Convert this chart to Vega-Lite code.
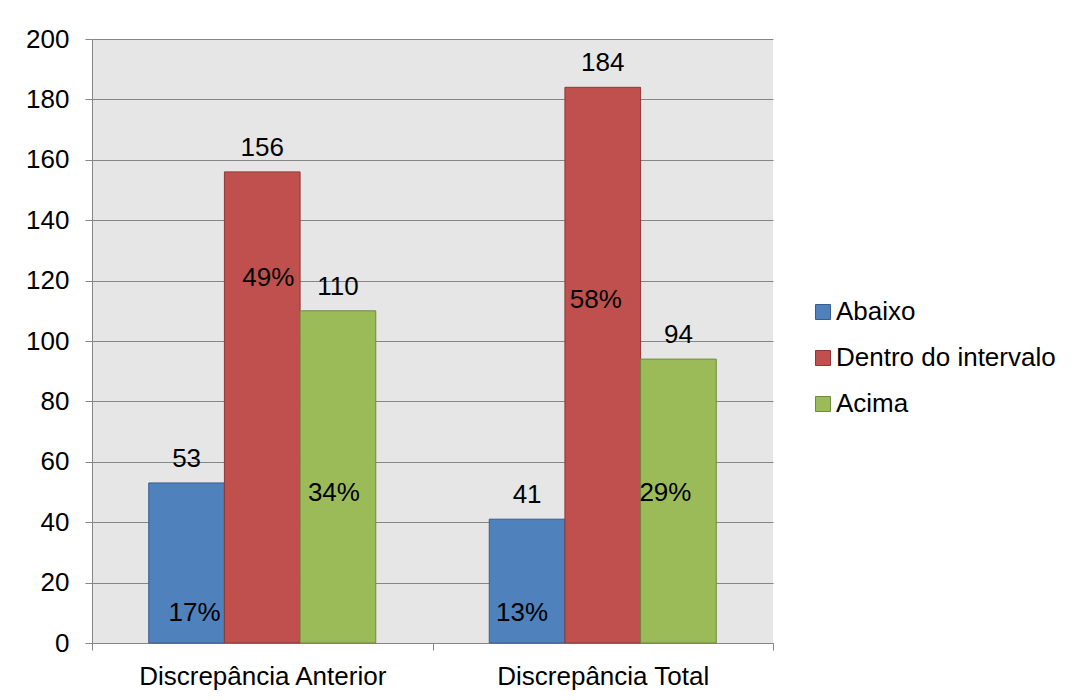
{
  "$schema": "https://vega.github.io/schema/vega-lite/v6.json",
  "width": 681,
  "height": 604,
  "autosize": {"type": "none"},
  "padding": {"left": 92, "top": 39, "right": 304, "bottom": 57},
  "background": "white",
  "config": {
    "font": "Liberation Sans",
    "view": {"fill": "#e6e6e6", "stroke": null},
    "text": {"font": "Liberation Sans", "fontSize": 26, "color": "black"}
  },
  "data": {
    "values": [
      {"grupo": "Discrepância Anterior", "serie": "Abaixo", "valor": 53, "pct": "17%"},
      {"grupo": "Discrepância Anterior", "serie": "Dentro do intervalo", "valor": 156, "pct": "49%"},
      {"grupo": "Discrepância Anterior", "serie": "Acima", "valor": 110, "pct": "34%"},
      {"grupo": "Discrepância Total", "serie": "Abaixo", "valor": 41, "pct": "13%"},
      {"grupo": "Discrepância Total", "serie": "Dentro do intervalo", "valor": 184, "pct": "58%"},
      {"grupo": "Discrepância Total", "serie": "Acima", "valor": 94, "pct": "29%"}
    ]
  },
  "encoding": {
    "x": {
      "field": "grupo",
      "type": "nominal",
      "sort": null,
      "scale": {"paddingInner": 0, "paddingOuter": 0},
      "axis": {
        "title": null,
        "labelAngle": 0,
        "labelLimit": 0,
        "tickBand": "extent",
        "tickSize": 7,
        "tickColor": "#868686",
        "domainColor": "#868686",
        "labelPadding": 13,
        "labelFontSize": 26,
        "labelColor": "black",
        "labelFont": "Liberation Sans"
      }
    },
    "xOffset": {
      "field": "serie",
      "type": "nominal",
      "sort": ["Abaixo", "Dentro do intervalo", "Acima"],
      "scale": {"paddingInner": 0, "paddingOuter": 0.75}
    }
  },
  "layer": [
    {
      "mark": {"type": "bar", "strokeWidth": 1},
      "encoding": {
        "y": {
          "field": "valor",
          "type": "quantitative",
          "scale": {"domain": [0, 200]},
          "axis": {
            "title": null,
            "values": [0, 20, 40, 60, 80, 100, 120, 140, 160, 180, 200],
            "grid": true,
            "gridColor": "#868686",
            "gridWidth": 1,
            "domainColor": "#868686",
            "tickColor": "#868686",
            "tickSize": 7,
            "labelPadding": 16,
            "labelFontSize": 26,
            "labelColor": "black",
            "labelFont": "Liberation Sans"
          }
        },
        "color": {
          "field": "serie",
          "type": "nominal",
          "sort": ["Abaixo", "Dentro do intervalo", "Acima"],
          "scale": {
            "domain": ["Abaixo", "Dentro do intervalo", "Acima"],
            "range": ["#4f81bd", "#c0504d", "#9bbb59"]
          },
          "legend": {
            "title": null,
            "orient": "none",
            "legendX": 718,
            "legendY": 260,
            "symbolType": "square",
            "symbolSize": 225,
            "symbolStrokeWidth": 1,
            "symbolStrokeColor": "#555555",
            "labelFontSize": 26,
            "labelFont": "Liberation Sans",
            "labelColor": "black",
            "labelLimit": 0,
            "labelOffset": 0,
            "rowPadding": 20,
            "padding": 0
          }
        },
        "stroke": {
          "field": "serie",
          "type": "nominal",
          "scale": {
            "domain": ["Abaixo", "Dentro do intervalo", "Acima"],
            "range": ["#385d8a", "#8c3836", "#71893f"]
          },
          "legend": null
        }
      }
    },
    {
      "mark": {"type": "text", "baseline": "alphabetic", "dy": -16},
      "encoding": {
        "y": {"field": "valor", "type": "quantitative"},
        "text": {"field": "valor", "type": "quantitative"}
      }
    },
    {
      "transform": [{"filter": "datum.serie === 'Abaixo' && datum.grupo === 'Discrepância Anterior'"}],
      "mark": {"type": "text", "baseline": "alphabetic", "dx": 8},
      "encoding": {"y": {"datum": 7.4}, "text": {"field": "pct"}}
    },
    {
      "transform": [{"filter": "datum.serie === 'Abaixo' && datum.grupo === 'Discrepância Total'"}],
      "mark": {"type": "text", "baseline": "alphabetic", "dx": -5},
      "encoding": {"y": {"datum": 7.4}, "text": {"field": "pct"}}
    },
    {
      "transform": [{"filter": "datum.serie === 'Dentro do intervalo' && datum.grupo === 'Discrepância Anterior'"}],
      "mark": {"type": "text", "baseline": "alphabetic", "dx": 6},
      "encoding": {"y": {"datum": 118.2}, "text": {"field": "pct"}}
    },
    {
      "transform": [{"filter": "datum.serie === 'Dentro do intervalo' && datum.grupo === 'Discrepância Total'"}],
      "mark": {"type": "text", "baseline": "alphabetic", "dx": -7},
      "encoding": {"y": {"datum": 110.8}, "text": {"field": "pct"}}
    },
    {
      "transform": [{"filter": "datum.serie === 'Acima' && datum.grupo === 'Discrepância Anterior'"}],
      "mark": {"type": "text", "baseline": "alphabetic", "dx": -4},
      "encoding": {"y": {"datum": 47.1}, "text": {"field": "pct"}}
    },
    {
      "transform": [{"filter": "datum.serie === 'Acima' && datum.grupo === 'Discrepância Total'"}],
      "mark": {"type": "text", "baseline": "alphabetic", "dx": -13},
      "encoding": {"y": {"datum": 47.1}, "text": {"field": "pct"}}
    }
  ]
}
